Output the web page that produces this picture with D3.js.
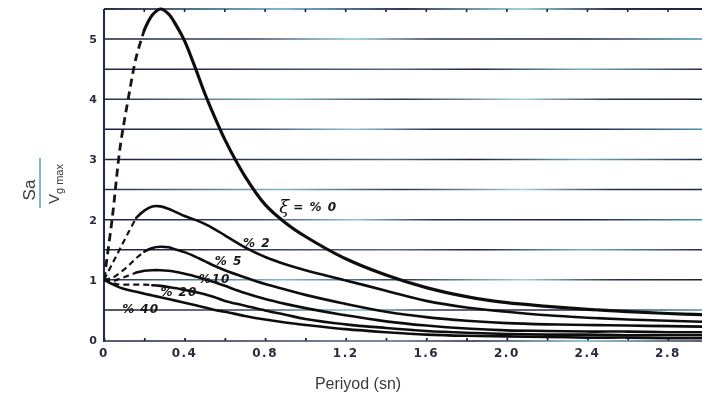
<!DOCTYPE html>
<html>
<head>
<meta charset="utf-8">
<script src="https://cdn.jsdelivr.net/npm/d3@7"></script>
<style>
  html, body { margin: 0; padding: 0; background: #fff; }
  svg { display: block; }
</style>
</head>
<body>
<svg id="chart" width="702" height="401"></svg>
<script>
// Period grid (s) shared by all response spectra
const periods = [0, 0.04, 0.08, 0.12, 0.16, 0.2, 0.24, 0.28, 0.32, 0.36, 0.4, 0.45, 0.5, 0.55, 0.6,
                 0.7, 0.8, 0.9, 1.0, 1.2, 1.4, 1.6, 1.8, 2.0, 2.2, 2.4, 2.6, 2.8, 3.0];

// Sa / Vg,max for each damping ratio (%)
const damping = [0, 2, 5, 10, 20, 40];
const sa0  = [1.0, 2.0, 3.2, 4.0, 4.7, 5.15, 5.4, 5.5, 5.42, 5.22, 4.97, 4.55, 4.1, 3.7, 3.33,
              2.72, 2.25, 1.95, 1.72, 1.35, 1.08, 0.87, 0.72, 0.62, 0.56, 0.51, 0.47, 0.44, 0.42];
const sa2  = [1.0, 1.26, 1.52, 1.78, 2.03, 2.15, 2.22, 2.22, 2.18, 2.12, 2.06, 2.0, 1.93, 1.84, 1.74,
              1.54, 1.38, 1.26, 1.16, 0.99, 0.82, 0.65, 0.54, 0.47, 0.41, 0.37, 0.34, 0.32, 0.30];
const sa5  = [1.0, 1.03, 1.12, 1.23, 1.36, 1.47, 1.53, 1.55, 1.54, 1.5, 1.46, 1.39, 1.31, 1.23, 1.16,
              1.04, 0.93, 0.84, 0.75, 0.6, 0.47, 0.38, 0.32, 0.28, 0.26, 0.25, 0.24, 0.23, 0.22];
const sa10 = [1.0, 0.98, 1.02, 1.07, 1.12, 1.15, 1.16, 1.16, 1.15, 1.13, 1.1, 1.06, 1.01, 0.96, 0.9,
              0.78, 0.68, 0.6, 0.53, 0.41, 0.31, 0.24, 0.19, 0.16, 0.15, 0.14, 0.14, 0.13, 0.13];
const sa20 = [1.0, 0.95, 0.92, 0.92, 0.92, 0.92, 0.91, 0.9, 0.88, 0.86, 0.83, 0.8, 0.76, 0.71, 0.65,
              0.57, 0.49, 0.42, 0.35, 0.26, 0.2, 0.15, 0.12, 0.1, 0.09, 0.09, 0.08, 0.08, 0.08];
const sa40 = [1.0, 0.93, 0.87, 0.83, 0.8, 0.77, 0.74, 0.71, 0.68, 0.65, 0.62, 0.58, 0.54, 0.5, 0.47,
              0.4, 0.34, 0.29, 0.25, 0.18, 0.13, 0.09, 0.07, 0.06, 0.05, 0.04, 0.04, 0.03, 0.03];
const spectra = [sa0, sa2, sa5, sa10, sa20, sa40];

// Period up to which each curve is drawn dashed (estimated branch)
const dashedUntil = [0.2, 0.16, 0.2, 0.16, 0.24, 0];

// Curve labels: text and anchor in data units
const labelText = ["= % 0", "% 2", "% 5", "%10", "% 20", "% 40"];
const labelT    = [0.94, 0.69, 0.55, 0.47, 0.28, 0.09];
const labelV    = [2.14, 1.54, 1.25, 0.95, 0.73, 0.45];

const xTicks = [0, 0.4, 0.8, 1.2, 1.6, 2.0, 2.4, 2.8];
const xMinor = d3.range(0, 3.01, 0.2);
const yTicks = [0, 1, 2, 3, 4, 5];
const gridLevels = [0.5, 1, 1.5, 2, 2.5, 3, 3.5, 4, 4.5, 5];

const W = 702, H = 401;
const x = d3.scaleLinear().domain([0, 2.8]).range([104, 668]);
const y = d3.scaleLinear().domain([0, 5.5]).range([340, 9]);

const svg = d3.select("#chart");
const defs = svg.append("defs");

// Faded ink along the printed grid lines
const inkStops = [
  [[0, "#1b2038"], [0.25, "#3b4668"], [0.42, "#8ec5d4"], [0.55, "#2a3252"], [0.8, "#1b2040"], [1, "#4e93ad"]],
  [[0, "#262c48"], [0.3, "#7fb9cc"], [0.5, "#2f3656"], [0.7, "#9fd2de"], [0.85, "#2a3050"], [1, "#1d2240"]],
  [[0, "#20263f"], [0.2, "#2a3050"], [0.48, "#556788"], [0.62, "#1c2140"], [0.8, "#72b0c4"], [1, "#252a48"]]
];
inkStops.forEach((stops, i) => {
  const g = defs.append("linearGradient")
    .attr("id", "ink" + i)
    .attr("gradientUnits", "userSpaceOnUse")
    .attr("x1", x(0)).attr("x2", W).attr("y1", 0).attr("y2", 0);
  stops.forEach(([o, c]) => g.append("stop").attr("offset", o).attr("stop-color", c));
});

defs.append("clipPath").attr("id", "plotClip")
  .append("rect").attr("x", x(0)).attr("y", 0).attr("width", W - x(0)).attr("height", y(0) + 4);

defs.append("filter").attr("id", "soft")
  .append("feGaussianBlur").attr("stdDeviation", 0.35);

const root = svg.append("g").attr("filter", "url(#soft)");

// Horizontal grid
root.append("g").selectAll("line")
  .data(gridLevels)
  .join("line")
  .attr("x1", x(0)).attr("x2", W)
  .attr("y1", d => y(d)).attr("y2", d => y(d))
  .attr("stroke", (d, i) => `url(#ink${i % 3})`)
  .attr("stroke-width", 1.5);

// Top frame with small ticks
root.append("line")
  .attr("x1", x(0)).attr("x2", W).attr("y1", y(5.5)).attr("y2", y(5.5))
  .attr("stroke", "url(#ink1)").attr("stroke-width", 1.8);
root.append("g").selectAll("line")
  .data(xMinor.filter(d => d > 0 && x(d) < W))
  .join("line")
  .attr("x1", d => x(d)).attr("x2", d => x(d))
  .attr("y1", y(5.5)).attr("y2", y(5.5) + 3)
  .attr("stroke", "#1e2440").attr("stroke-width", 1.6);

// Bottom axis
const xAxis = d3.axisBottom(x)
  .tickValues(xMinor.filter(d => x(d) < W))
  .tickSize(-3)
  .tickFormat("");
const gx = root.append("g").attr("transform", `translate(0,${y(0) + 1})`).call(xAxis);
gx.select(".domain").remove();
gx.selectAll(".tick line").attr("stroke", "#1e2440").attr("stroke-width", 1.8);
root.append("line")
  .attr("x1", x(0)).attr("x2", W).attr("y1", y(0) + 1).attr("y2", y(0) + 1)
  .attr("stroke", "url(#ink2)").attr("stroke-width", 1.6);

root.append("g").selectAll("text")
  .data(xTicks)
  .join("text")
  .attr("x", d => x(d))
  .attr("y", y(0) + 17)
  .attr("text-anchor", "middle")
  .attr("font-family", "DejaVu Sans, sans-serif")
  .attr("font-size", 12)
  .attr("font-weight", "bold")
  .attr("letter-spacing", 1.5)
  .attr("fill", "#2a2c3c")
  .text(d => d === 0 ? "0" : d.toFixed(1));

// Left axis
root.append("line")
  .attr("x1", x(0)).attr("x2", x(0)).attr("y1", y(5.5)).attr("y2", y(0) + 2)
  .attr("stroke", "#1f2a55").attr("stroke-width", 2);
root.append("g").selectAll("text")
  .data(yTicks)
  .join("text")
  .attr("x", x(0) - 11)
  .attr("y", d => y(d) + 4)
  .attr("text-anchor", "middle")
  .attr("font-family", "DejaVu Sans, sans-serif")
  .attr("font-size", 11)
  .attr("font-weight", "bold")
  .attr("fill", "#2a2c3c")
  .text(d => d);

// Spectra
const line = d3.line()
  .x(d => x(d[0]))
  .y(d => y(d[1]))
  .curve(d3.curveCatmullRom.alpha(0.5));

const curves = root.append("g").attr("clip-path", "url(#plotClip)");
spectra.forEach((vals, i) => {
  const pts = periods.map((t, k) => [t, vals[k]]);
  const cut = dashedUntil[i];
  const width = i === 0 ? 3.2 : 2.6;
  if (cut > 0) {
    curves.append("path")
      .attr("d", line(pts.filter(p => p[0] <= cut)))
      .attr("fill", "none")
      .attr("stroke", "#141414")
      .attr("stroke-width", i === 0 ? 2.8 : 2.2)
      .attr("stroke-dasharray", i === 0 ? "8,5" : "6,4");
  }
  curves.append("path")
    .attr("d", line(pts.filter(p => p[0] >= cut)))
    .attr("fill", "none")
    .attr("stroke", "#111")
    .attr("stroke-width", width)
    .attr("stroke-linecap", "round");
});

// Damping labels
const labels = root.append("g");
labelText.forEach((txt, i) => {
  const lx = x(labelT[i]), ly = y(labelV[i]);
  if (i === 0) {
    labels.append("text")
      .attr("x", lx - 14).attr("y", ly + 2)
      .attr("font-family", "DejaVu Serif, serif")
      .attr("font-style", "italic")
      .attr("font-size", 18)
      .attr("fill", "#151515")
      .text("ξ");
  }
  labels.append("text")
    .attr("x", lx).attr("y", ly)
    .attr("font-family", "DejaVu Sans, sans-serif")
    .attr("font-size", 12)
    .attr("font-weight", "bold")
    .attr("font-style", "italic")
    .attr("letter-spacing", 1)
    .attr("fill", "#151515")
    .text(txt);
});

// Axis titles
root.append("text")
  .attr("x", 358).attr("y", 389)
  .attr("text-anchor", "middle")
  .attr("font-family", "Liberation Sans, Arial, sans-serif")
  .attr("font-size", 16)
  .attr("fill", "#3a3a3a")
  .text("Periyod (sn)");

const yt = root.append("g").attr("transform", "rotate(-90)");
yt.append("text")
  .attr("x", -190).attr("y", 35)
  .attr("text-anchor", "middle")
  .attr("font-family", "Liberation Sans, Arial, sans-serif")
  .attr("font-size", 17)
  .attr("fill", "#3a3a3a")
  .text("Sa");
yt.append("line")
  .attr("x1", -208).attr("x2", -158)
  .attr("y1", 40).attr("y2", 40)
  .attr("stroke", "#5aa6b6").attr("stroke-width", 1.6);
const vt = yt.append("text")
  .attr("x", -204).attr("y", 59)
  .attr("font-family", "Liberation Sans, Arial, sans-serif")
  .attr("font-size", 15)
  .attr("fill", "#3a3a3a");
vt.append("tspan").text("V");
vt.append("tspan").attr("dy", 4).attr("font-size", 11).text("g max");
</script>
</body>
</html>
